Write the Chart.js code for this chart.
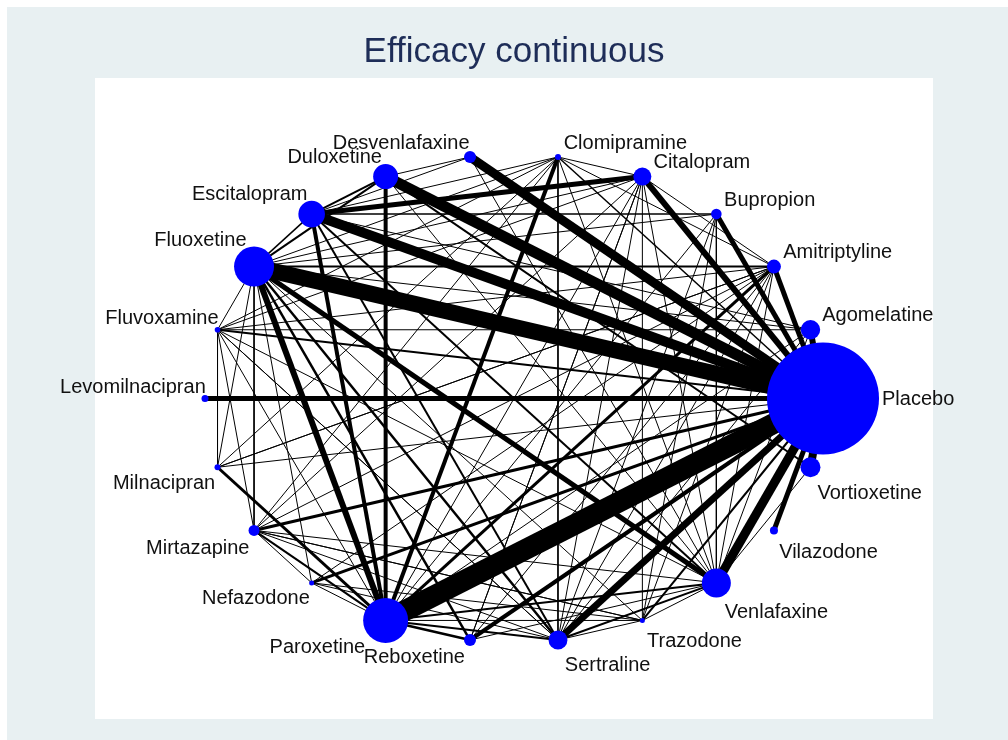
<!DOCTYPE html>
<html>
<head>
<meta charset="utf-8">
<script src="https://cdn.jsdelivr.net/npm/chart.js@4.4.0/dist/chart.umd.min.js"></script>
<style>
html,body{margin:0;padding:0;background:#fff;}
#wrap{position:absolute;left:0;top:0;width:1008px;height:740px;}
</style>
</head>
<body>
<div id="wrap"><canvas id="c" width="1008" height="740"></canvas></div>
<script>
// ---- data ----
const titleText = "Efficacy continuous";
const treatments = ["Placebo","Agomelatine","Amitriptyline","Bupropion","Citalopram","Clomipramine",
  "Desvenlafaxine","Duloxetine","Escitalopram","Fluoxetine","Fluvoxamine","Levomilnacipran",
  "Milnacipran","Mirtazapine","Nefazodone","Paroxetine","Reboxetine","Sertraline","Trazodone",
  "Venlafaxine","Vilazodone","Vortioxetine"];
// node weight (drawn as marker radius)
const nodeWeight = [56,9.7,7,5.3,9,3,6,12.5,13.3,20,2.8,3.5,3,5.5,2.5,22.5,6,9.5,2.5,14.5,4,10];
// comparisons: from, to, weight (line width)
const edgeFrom = [
 "Placebo","Placebo","Placebo","Placebo","Placebo","Placebo","Placebo","Placebo","Placebo","Placebo",
 "Placebo","Placebo","Placebo","Placebo","Placebo","Placebo","Placebo","Placebo","Placebo","Placebo","Placebo",
 "Fluoxetine","Fluoxetine","Fluoxetine","Fluoxetine","Fluoxetine","Fluoxetine","Fluoxetine","Fluoxetine","Fluoxetine","Fluoxetine","Fluoxetine","Fluoxetine","Fluoxetine","Fluoxetine","Fluoxetine",
 "Paroxetine","Paroxetine","Paroxetine","Paroxetine","Paroxetine","Paroxetine","Paroxetine","Paroxetine","Paroxetine","Paroxetine","Paroxetine","Paroxetine","Paroxetine","Paroxetine","Paroxetine",
 "Escitalopram","Escitalopram","Escitalopram","Escitalopram","Escitalopram","Escitalopram","Escitalopram",
 "Duloxetine","Duloxetine","Duloxetine",
 "Citalopram","Citalopram","Citalopram","Citalopram","Citalopram","Citalopram","Citalopram",
 "Bupropion","Bupropion","Bupropion",
 "Amitriptyline","Amitriptyline","Amitriptyline","Amitriptyline","Amitriptyline","Amitriptyline","Amitriptyline","Amitriptyline","Amitriptyline",
 "Clomipramine","Clomipramine","Clomipramine","Clomipramine","Clomipramine","Clomipramine","Clomipramine",
 "Sertraline","Sertraline","Sertraline","Sertraline","Sertraline","Sertraline",
 "Venlafaxine","Venlafaxine","Venlafaxine","Venlafaxine","Venlafaxine","Venlafaxine",
 "Mirtazapine","Mirtazapine","Mirtazapine",
 "Fluvoxamine","Fluvoxamine","Fluvoxamine","Fluvoxamine",
 "Trazodone","Trazodone","Nefazodone","Milnacipran","Agomelatine","Reboxetine"
];
const edgeTo = [
 "Agomelatine","Amitriptyline","Bupropion","Citalopram","Clomipramine","Desvenlafaxine","Duloxetine","Escitalopram","Fluoxetine","Fluvoxamine",
 "Levomilnacipran","Milnacipran","Mirtazapine","Nefazodone","Paroxetine","Reboxetine","Sertraline","Trazodone","Venlafaxine","Vilazodone","Vortioxetine",
 "Paroxetine","Venlafaxine","Escitalopram","Duloxetine","Amitriptyline","Bupropion","Citalopram","Sertraline","Mirtazapine","Fluvoxamine","Milnacipran","Reboxetine","Trazodone","Nefazodone","Agomelatine",
 "Duloxetine","Escitalopram","Clomipramine","Milnacipran","Mirtazapine","Nefazodone","Fluvoxamine","Amitriptyline","Citalopram","Sertraline","Venlafaxine","Reboxetine","Trazodone","Bupropion","Agomelatine",
 "Citalopram","Bupropion","Duloxetine","Desvenlafaxine","Sertraline","Venlafaxine","Agomelatine",
 "Desvenlafaxine","Venlafaxine","Vortioxetine",
 "Sertraline","Venlafaxine","Reboxetine","Mirtazapine","Amitriptyline","Clomipramine","Fluvoxamine",
 "Sertraline","Venlafaxine","Trazodone",
 "Sertraline","Mirtazapine","Trazodone","Fluvoxamine","Venlafaxine","Reboxetine","Milnacipran","Nefazodone","Clomipramine",
 "Sertraline","Fluvoxamine","Fluoxetine","Mirtazapine","Venlafaxine","Milnacipran","Escitalopram",
 "Venlafaxine","Mirtazapine","Nefazodone","Fluvoxamine","Agomelatine","Trazodone",
 "Mirtazapine","Trazodone","Agomelatine","Vortioxetine","Desvenlafaxine","Reboxetine",
 "Trazodone","Fluvoxamine","Nefazodone",
 "Milnacipran","Sertraline","Venlafaxine","Agomelatine",
 "Citalopram","Mirtazapine","Trazodone","Amitriptyline","Vortioxetine","Citalopram"
];
const edgeWeight = [
 6,5,5,6,1.5,9,11,10,16,2,
 5,1,3,3,21,4,7,2,9,5,8,
 6,5,1.5,2,2,1,1,2.5,1,1,1,2.5,1,1,1,
 4,4,4,3,2,1,1,3,1,2,2,2.5,1,1,1,
 5,1.5,2,1,2,2,1,
 1,1,2,
 1,1,1,1,1,1,1,
 1,1,1,
 1,1,1,1,1,1,1,1,1,
 1,1,1,1,1,1,1,
 2,1,1,1,1,1,
 1,1,1,1,1,1,
 1,1,1,
 1,1,1,1,
 1,1,1,1,1,1
];

// ---- layout: nodes evenly on an ellipse, Placebo at 0 rad, counter-clockwise ----
const RX = 309, RY = 244;           // px radii of the layout ellipse
const AREA_W = 838, AREA_H = 641;   // plot region size
const xMax = (AREA_W/2)/RX, yMax = (AREA_H/2)/RY;
const nodePos = treatments.map((t,i)=>{
  const a = 2*Math.PI*i/treatments.length;
  return {x: Math.cos(a), y: Math.sin(a), a};
});
const idx = n => treatments.indexOf(n);

const datasets = [];
datasets.push({
  type:'bubble', label:'nodes', order:0,
  data: treatments.map((t,i)=>({x:nodePos[i].x, y:nodePos[i].y, r:nodeWeight[i]})),
  backgroundColor:'rgb(0,0,255)', borderWidth:0, hoverRadius:0, clip:false
});
edgeFrom.forEach((f,k)=>{
  const a = nodePos[idx(f)], b = nodePos[idx(edgeTo[k])];
  datasets.push({
    type:'line', label:f+'-'+edgeTo[k], order:1,
    data:[{x:a.x,y:a.y},{x:b.x,y:b.y}],
    borderColor:'#000', borderWidth:edgeWeight[k], pointRadius:0, fill:false,
    tension:0, showLine:true, borderCapStyle:'butt', clip:false
  });
});

const bgPlugin = {
  id:'bg',
  beforeDraw(chart){
    const {ctx, chartArea:ca} = chart;
    ctx.save();
    ctx.fillStyle = '#ffffff';
    ctx.fillRect(0,0,chart.width,chart.height);
    ctx.fillStyle = 'rgb(232,240,242)';
    ctx.fillRect(7,7,chart.width-7,chart.height-7);
    ctx.fillStyle = '#ffffff';
    ctx.fillRect(ca.left,ca.top,ca.right-ca.left,ca.bottom-ca.top);
    ctx.restore();
  }
};

const labelPlugin = {
  id:'nodeLabels',
  afterDatasetsDraw(chart){
    const {ctx, scales} = chart;
    ctx.save();
    ctx.font = '20px "Liberation Sans", Arial, sans-serif';
    ctx.fillStyle = '#111';
    ctx.textBaseline = 'middle';
    const n = treatments.length;
    treatments.forEach((t,i)=>{
      const px = scales.x.getPixelForValue(nodePos[i].x);
      const py = scales.y.getPixelForValue(nodePos[i].y);
      const r = nodeWeight[i];
      let tx, ty, align;
      if (i===0){ align='left'; tx = px + r + 3; ty = py + 1; }
      else if (i < n/4){ align='left'; tx = px + 3 + 0.9*r; ty = py - 13 - 0.1*r; }
      else if (i <= n/2){ align='right'; tx = px - 0.5*r + 2.5; ty = py - 0.866*r - 8.4; }
      else if (i < 3*n/4){ align='right'; tx = px - 0.93*r + 0.5; ty = py + 14.5 + 0.57*r; }
      else { align='left'; tx = px + 4 + 0.3*r; ty = py + 19 + 0.7*r; }
      ctx.textAlign = align;
      ctx.fillText(t, tx, ty);
    });
    ctx.restore();
  }
};

new Chart(document.getElementById('c'), {
  type:'scatter',
  data:{datasets},
  options:{
    responsive:false, animation:false, devicePixelRatio:1,
    layout:{autoPadding:false, padding:{left:95,right:75,top:0,bottom:21}},
    scales:{
      x:{type:'linear', min:-xMax, max:xMax, display:false},
      y:{type:'linear', min:-yMax, max:yMax, display:false}
    },
    plugins:{
      legend:{display:false}, tooltip:{enabled:false},
      title:{display:true, text:titleText, color:'#1e2d58',
        font:{family:'"Liberation Sans", Arial, sans-serif', size:35, weight:'normal'},
        padding:{top:31,bottom:5}}
    },
    events:[]
  },
  plugins:[bgPlugin,labelPlugin]
});
</script>
</body>
</html>
